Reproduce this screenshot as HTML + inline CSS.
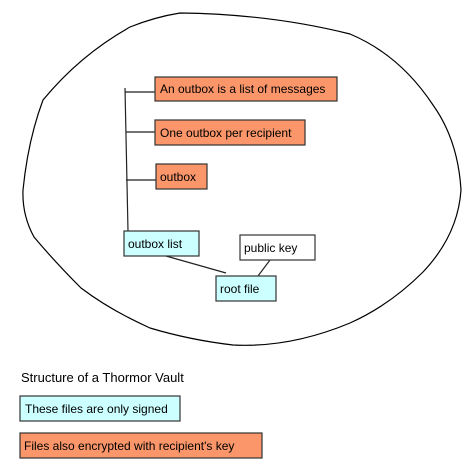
<!DOCTYPE html>
<html><head><style>
body{margin:0;width:476px;height:468px;background:#fff;overflow:hidden}
svg text{font-family:"Liberation Sans",sans-serif}
</style></head><body>
<svg width="476" height="468" viewBox="0 0 476 468">
<path d="M180,13 Q270,14 350,34 Q400,55 433,105 Q458,140 461,190 Q458,235 423,272 Q390,305 350,323 Q290,348 233,345 Q190,340 150,328 Q110,310 81,288 Q55,262 34,237 Q22,215 23,190 Q28,140 43,100 Q80,55 130,27 Q155,17 180,13 Z" fill="none" stroke="#000" stroke-width="1.2"/>
<g stroke="#222" stroke-width="1.2" fill="none">
<line x1="125" y1="88" x2="128" y2="231"/>
<line x1="125" y1="92" x2="155" y2="92"/>
<line x1="126" y1="132" x2="155" y2="132"/>
<line x1="126" y1="180" x2="156" y2="180"/>
<line x1="166" y1="256" x2="226" y2="273"/>
<line x1="270" y1="260" x2="258" y2="276"/>
</g>
<g stroke="#333" stroke-width="1.2" font-size="12">
<rect x="155" y="77" width="182" height="24" fill="#fa966a"/>
<rect x="155" y="120" width="150" height="25" fill="#fa966a"/>
<rect x="156" y="164" width="51" height="25" fill="#fa966a"/>
<rect x="124" y="231" width="75" height="25" fill="#ccffff"/>
<rect x="240" y="235" width="75" height="25" fill="#fff"/>
<rect x="216" y="276" width="60" height="25" fill="#ccffff"/>
<rect x="20" y="396" width="160" height="25" fill="#ccffff"/>
<rect x="20" y="433" width="242" height="25" fill="#fa966a"/>
</g>
<g font-size="12" fill="#000">
<text x="160" y="93">An outbox is a list of messages</text>
<text x="160" y="137">One outbox per recipient</text>
<text x="160" y="181">outbox</text>
<text x="128" y="248">outbox list</text>
<text x="244" y="252">public key</text>
<text x="220" y="293">root file</text>
<text x="25" y="413">These files are only signed</text>
<text x="24" y="450">Files also encrypted with recipient's key</text>
<text x="21" y="382" font-size="13">Structure of a Thormor Vault</text>
</g>
</svg>
</body></html>
